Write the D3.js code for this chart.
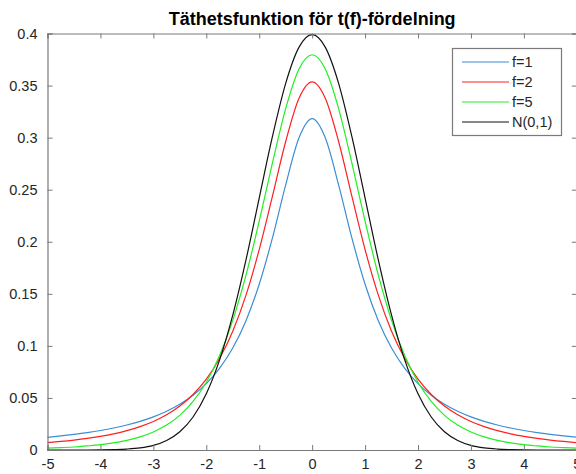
<!DOCTYPE html>
<html>
<head>
<meta charset="utf-8">
<script src="https://cdn.jsdelivr.net/npm/d3@7"></script>
<style>
    body { margin: 0; background: #fff; }
    svg { display: block; font-family: "Liberation Sans", Arial, sans-serif; }
</style>
</head>
<body>
<div id="chart"></div>
<script>
// x positions of the sampled points
const xValues = [-5, -4.75, -4.5, -4.25, -4, -3.75, -3.5, -3.25, -3, -2.75, -2.5, -2.25, -2, -1.75, -1.5, -1.25, -1, -0.75, -0.5, -0.25,
    0, 0.25, 0.5, 0.75, 1, 1.25, 1.5, 1.75, 2, 2.25, 2.5, 2.75, 3, 3.25, 3.5, 3.75, 4, 4.25, 4.5, 4.75, 5];

// density values
const f1Values = [0.0122, 0.0135, 0.0150, 0.0167, 0.0187, 0.0211, 0.0240, 0.0275, 0.0318, 0.0372, 0.0439, 0.0525, 0.0637, 0.0784, 0.0979, 0.1242, 0.1592, 0.2037, 0.2546, 0.2996,
    0.3183, 0.2996, 0.2546, 0.2037, 0.1592, 0.1242, 0.0979, 0.0784, 0.0637, 0.0525, 0.0439, 0.0372, 0.0318, 0.0275, 0.0240, 0.0211, 0.0187, 0.0167, 0.0150, 0.0135, 0.0122];
const f2Values = [0.0071, 0.0082, 0.0095, 0.0111, 0.0131, 0.0155, 0.0186, 0.0225, 0.0274, 0.0338, 0.0422, 0.0533, 0.0680, 0.0878, 0.1141, 0.1487, 0.1925, 0.2438, 0.2963, 0.3376,
    0.3536, 0.3376, 0.2963, 0.2438, 0.1925, 0.1487, 0.1141, 0.0878, 0.0680, 0.0533, 0.0422, 0.0338, 0.0274, 0.0225, 0.0186, 0.0155, 0.0131, 0.0111, 0.0095, 0.0082, 0.0071];
const f5Values = [0.0018, 0.0023, 0.0029, 0.0039, 0.0051, 0.0069, 0.0092, 0.0126, 0.0173, 0.0239, 0.0333, 0.0466, 0.0651, 0.0905, 0.1245, 0.1679, 0.2197, 0.2757, 0.3279, 0.3657,
    0.3796, 0.3657, 0.3279, 0.2757, 0.2197, 0.1679, 0.1245, 0.0905, 0.0651, 0.0466, 0.0333, 0.0239, 0.0173, 0.0126, 0.0092, 0.0069, 0.0051, 0.0039, 0.0029, 0.0023, 0.0018];
const normValues = [0.0000, 0.0000, 0.0000, 0.0000, 0.0001, 0.0004, 0.0009, 0.0020, 0.0044, 0.0091, 0.0175, 0.0317, 0.0540, 0.0863, 0.1295, 0.1826, 0.2420, 0.3011, 0.3521, 0.3867,
    0.3989, 0.3867, 0.3521, 0.3011, 0.2420, 0.1826, 0.1295, 0.0863, 0.0540, 0.0317, 0.0175, 0.0091, 0.0044, 0.0020, 0.0009, 0.0004, 0.0001, 0.0000, 0.0000, 0.0000, 0.0000];

const seriesNames = ["f=1", "f=2", "f=5", "N(0,1)"];
const seriesColors = ["#3b8ed3", "#ff1f1f", "#22ee22", "#111111"];

const xTicks = [-5, -4, -3, -2, -1, 0, 1, 2, 3, 4, 5];
const yTicks = [0, 0.05, 0.1, 0.15, 0.2, 0.25, 0.3, 0.35, 0.4];

const titleText = "Täthetsfunktion för t(f)-fördelning";

// Dimensions
const width = 576, height = 474;
const plot = { left: 47.5, right: 576.8, top: 33.5, bottom: 450 };

const svg = d3.select("#chart")
    .append("svg")
    .attr("width", width)
    .attr("height", height);

const x = d3.scaleLinear().domain([-5, 5]).range([plot.left, plot.right]);
const y = d3.scaleLinear().domain([0, 0.4]).range([plot.bottom, plot.top]);

const axisColor = "#7a7a7a";
const labelColor = "#262626";
const tickLen = 5;

// Title
svg.append("text")
    .attr("x", (plot.left + plot.right) / 2)
    .attr("y", 25)
    .attr("text-anchor", "middle")
    .style("font-size", "18px")
    .style("font-weight", "bold")
    .style("fill", "#000")
    .text(titleText);

// Curves
const allSeries = [f1Values, f2Values, f5Values, normValues];
const line = d3.line()
    .x((d, i) => x(xValues[i]))
    .y(d => y(d))
    .curve(d3.curveMonotoneX);

svg.append("g")
    .selectAll("path")
    .data(allSeries)
    .join("path")
    .attr("d", d => line(d))
    .attr("fill", "none")
    .attr("stroke", (d, i) => seriesColors[i])
    .attr("stroke-width", 1.2);

// Axes (box with inward ticks), plain hyphen for negatives like the original
const bottomAxis = d3.axisBottom(x).tickValues(xTicks).tickSize(-tickLen).tickPadding(9).tickFormat(d => String(d));
const topAxis = d3.axisTop(x).tickValues(xTicks).tickSize(-tickLen).tickFormat("");
const leftAxis = d3.axisLeft(y).tickValues(yTicks).tickSize(-tickLen).tickPadding(10).tickFormat(d => String(d));
const rightAxis = d3.axisRight(y).tickValues(yTicks).tickSize(-tickLen).tickFormat("");

function styleAxis(g) {
    g.select(".domain").attr("stroke", axisColor).attr("stroke-width", 1.2);
    g.selectAll(".tick line").attr("stroke", axisColor);
    g.selectAll(".tick text")
        .style("font-size", "14.5px")
        .style("font-family", "'Liberation Sans', Arial, sans-serif")
        .attr("fill", labelColor);
}

svg.append("g").attr("transform", `translate(0,${plot.bottom})`).call(bottomAxis).call(styleAxis)
    .selectAll(".tick text").attr("dy", "0.72em");
svg.append("g").attr("transform", `translate(0,${plot.top})`).call(topAxis).call(styleAxis);
svg.append("g").attr("transform", `translate(${plot.left},0)`).call(leftAxis).call(styleAxis);
svg.append("g").attr("transform", `translate(${plot.right},0)`).call(rightAxis).call(styleAxis);

// Legend
const legend = svg.append("g").attr("class", "legend");
legend.append("rect")
    .attr("x", 452.5)
    .attr("y", 48.5)
    .attr("width", 109)
    .attr("height", 87)
    .attr("fill", "#fff")
    .attr("stroke", axisColor)
    .attr("stroke-width", 1.2);

const rows = legend.selectAll("g.row")
    .data(seriesNames)
    .join("g")
    .attr("class", "row")
    .attr("transform", (d, i) => `translate(0,${62 + i * 20})`);

rows.append("line")
    .attr("x1", 462)
    .attr("x2", 509)
    .attr("stroke", (d, i) => seriesColors[i])
    .attr("stroke-width", 1.2);

rows.append("text")
    .attr("x", 512)
    .attr("dy", "0.35em")
    .style("font-size", "14.5px")
    .style("fill", labelColor)
    .text(d => d);
</script>
</body>
</html>
